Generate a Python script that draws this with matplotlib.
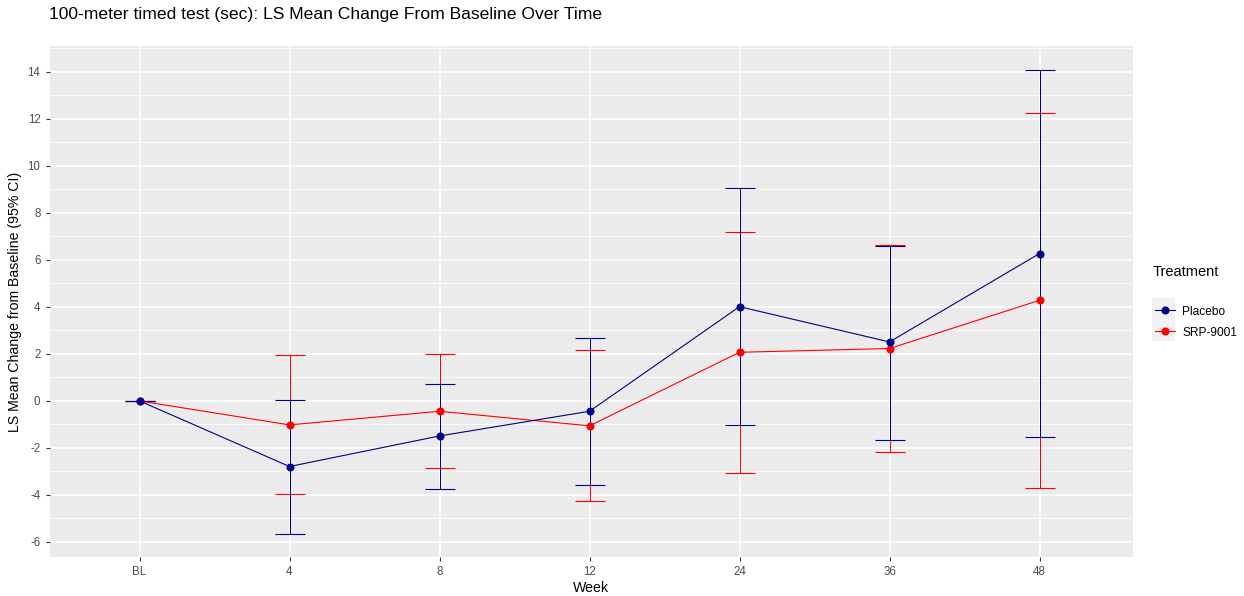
import matplotlib.pyplot as plt
from matplotlib.patches import Rectangle
from matplotlib.ticker import MultipleLocator

plt.rcParams['font.family'] = ['Liberation Sans', 'DejaVu Sans']
plt.rcParams['axes.unicode_minus'] = False

weeks = ['BL', '4', '8', '12', '24', '36', '48']
treatments = ['Placebo', 'SRP-9001']
colours = {'Placebo': '#00008B', 'SRP-9001': '#FF0000'}

# LS mean change and 95% CI
placebo_mean = [0.0, -2.79, -1.49, -0.44, 4.01, 2.51, 6.27]
placebo_low = [0.0, -5.66, -3.74, -3.57, -1.03, -1.65, -1.53]
placebo_high = [0.0, 0.06, 0.72, 2.69, 9.06, 6.61, 14.06]
srp_mean = [0.0, -1.02, -0.44, -1.06, 2.07, 2.23, 4.28]
srp_low = [0.0, -3.97, -2.85, -4.27, -3.08, -2.18, -3.69]
srp_high = [0.0, 1.96, 1.98, 2.16, 7.20, 6.64, 12.26]

data = {
    'Placebo': (placebo_mean, placebo_low, placebo_high),
    'SRP-9001': (srp_mean, srp_low, srp_high),
}

fig = plt.figure(figsize=(12.44, 5.96), dpi=100)
# 150 px per week so each week sits on a pixel centre
ax = fig.add_axes([49.5/1244, 39/596, 1083.5/1244, (557-46)/596])
ax.set_facecolor('#EBEBEB')
for s in ax.spines.values():
    s.set_visible(False)

x = list(range(1, len(weeks) + 1))

# error bars first, red under blue
for t in ['SRP-9001', 'Placebo']:
    m, lo, hi = data[t]
    ax.errorbar(x, m, yerr=[[a - b for a, b in zip(m, lo)], [b - a for a, b in zip(m, hi)]],
                fmt='none', ecolor=colours[t], elinewidth=0.72, capsize=10.8,
                capthick=0.8, zorder=3)

for t in ['SRP-9001', 'Placebo']:
    m = data[t][0]
    ax.plot(x, m, color=colours[t], lw=0.8, zorder=4)
for t in ['SRP-9001', 'Placebo']:
    m = data[t][0]
    ax.plot(x, m, 'o', color=colours[t], ms=4.8, zorder=5)

ax.set_xlim(0.4, 0.4 + 1083.5/150)
ax.set_ylim(-6.64, 15.1)
ax.set_xticks(x)
ax.set_xticklabels(weeks)
ax.yaxis.set_major_locator(MultipleLocator(2))
ax.yaxis.set_minor_locator(MultipleLocator(1))
ax.grid(which='major', color='white', lw=1.1, zorder=0)
ax.grid(which='minor', axis='y', color='white', lw=0.55, zorder=0)
ax.set_axisbelow(True)
ax.tick_params(which='major', colors='#333333', labelcolor='#4D4D4D',
               labelsize=8.3, length=3, width=0.8)
ax.tick_params(which='minor', length=0)

ax.set_xlabel('Week', fontsize=10.2, color='black', labelpad=2)
ax.set_ylabel('LS Mean Change from Baseline (95% CI)', fontsize=10.2, color='black', labelpad=4)
fig.text(49/1244, 1 - 15/596, '100-meter timed test (sec): LS Mean Change From Baseline Over Time',
         fontsize=12.6, va='center', ha='left')

# legend
fig.text(1153/1244, 1 - 272/596, 'Treatment', fontsize=10.5, va='center', ha='left')
fig.patches.append(Rectangle((1152/1244, 1 - 341/596), 23/1244, 43/596,
                             transform=fig.transFigure, facecolor='#F2F2F2',
                             edgecolor='none', figure=fig))
handles = [plt.Line2D([], [], color=colours[t], marker='o', ms=4.8, lw=0.8) for t in treatments]
leg = fig.legend(handles, treatments, loc='upper left',
                 bbox_to_anchor=(1144/1244, 1 - 302/596 + 0.012),
                 frameon=False, fontsize=8.6, handlelength=1.7,
                 handletextpad=0.6, labelspacing=0.75)

fig.savefig('out.png', dpi=100)
